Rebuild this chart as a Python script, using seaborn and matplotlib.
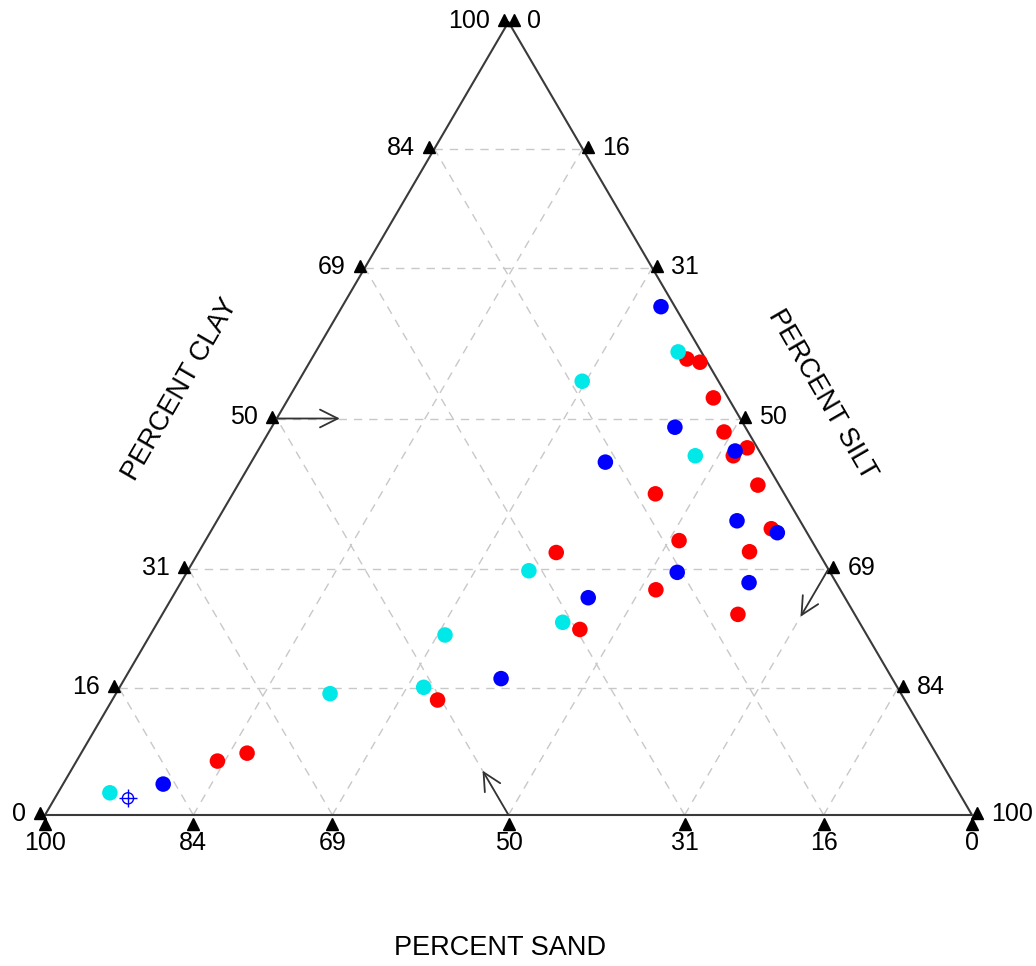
import numpy as np
import pandas as pd
import matplotlib
matplotlib.use("Agg")
import matplotlib.pyplot as plt
import seaborn as sns
from matplotlib.transforms import offset_copy

# ---------------- data (percent sand / silt / clay) ----------------
tick_values = [0, 16, 31, 50, 69, 84, 100]
grid_values = [16, 31, 50, 69, 84]

red_sand = [2.0, 0.8, 1.6, 2.6, 1.1, 3.1, 2.3, 13.9, 3.6, 14.3, 28.3, 7.4, 19.9, 30.6, 12.6, 50.4, 74.3, 78.0]
red_silt = [40.5, 42.1, 45.8, 49.1, 52.6, 51.6, 56.1, 45.6, 60.3, 51.1, 38.6, 59.4, 51.7, 46.0, 62.1, 35.1, 17.9, 15.2]
red_clay = [57.5, 57.1, 52.6, 48.3, 46.3, 45.3, 41.6, 40.5, 36.1, 34.6, 33.1, 33.2, 28.4, 23.4, 25.3, 14.5, 7.8, 6.8]

cyan_sand = [2.5, 14.7, 7.2, 32.4, 45.5, 32.0, 61.6, 51.1, 91.6]
cyan_silt = [39.1, 30.6, 47.5, 36.8, 31.8, 43.7, 23.1, 32.8, 5.6]
cyan_clay = [58.4, 54.7, 45.3, 30.8, 22.7, 24.3, 15.3, 16.1, 2.8]

blue_sand = [1.5, 7.6, 17.3, 2.6, 6.8, 3.2, 16.5, 9.4, 27.7, 42.2, 85.3]
blue_silt = [34.4, 43.5, 38.2, 51.5, 56.1, 61.2, 52.9, 61.3, 44.9, 40.6, 10.8]
blue_clay = [64.1, 48.9, 44.5, 45.9, 37.1, 35.6, 30.6, 29.3, 27.4, 17.2, 3.9]

special_sand = [90.0]
special_silt = [7.9]
special_clay = [2.1]

H = np.sqrt(3) / 2


def to_xy(sand, silt, clay):
    sand, silt, clay = map(np.asarray, (sand, silt, clay))
    tot = sand + silt + clay
    return (silt + clay / 2.0) / tot, clay / tot * H


frames = []
for name, s, si, c in [("red", red_sand, red_silt, red_clay),
                       ("cyan", cyan_sand, cyan_silt, cyan_clay),
                       ("blue", blue_sand, blue_silt, blue_clay)]:
    x, y = to_xy(s, si, c)
    frames.append(pd.DataFrame({"x": x, "y": y, "group": name}))
df = pd.concat(frames, ignore_index=True)
sx, sy = to_xy(special_sand, special_silt, special_clay)
df_special = pd.DataFrame({"x": sx, "y": sy})

# ---------------- figure ----------------
sns.set_style("white")
plt.rcParams["font.family"] = ["Liberation Sans", "DejaVu Sans"]
plt.rcParams["text.color"] = "black"

W, Hpx = 1036, 966
fig = plt.figure(figsize=(W / 100, Hpx / 100), dpi=100)
ax = fig.add_axes([0, 0, 1, 1])
ax.set_xlim(-45 / 927, 1 + 64 / 927)
ax.set_ylim(-151 / 793 * H, H + 22 / 793 * H)
ax.axis("off")

grid_kw = dict(color="#c8c8c8", lw=1.0, ls=(0, (6, 5)), zorder=1)
for v in grid_values:
    f = v / 100
    # clay constant (horizontal)
    ax.plot([f / 2, 1 - f / 2], [f * H, f * H], **grid_kw)
    # silt constant (parallel to left edge)
    ax.plot([f, f + (1 - f) / 2], [0, (1 - f) * H], **grid_kw)
    # sand constant (parallel to right edge)
    ax.plot([1 - f, (1 - f) / 2], [0, (1 - f) * H], **grid_kw)

# triangle edges
ax.plot([0, 1, 0.5, 0], [0, 0, H, 0], color="#3a3a3a", lw=1.5, zorder=2)

# ticks and labels
def off(dx_px, dy_px):
    return offset_copy(ax.transData, fig=fig, x=dx_px * 0.72, y=dy_px * 0.72, units="points")

tri_kw = dict(marker="^", color="black", ms=8, ls="none", zorder=4)
fs = 18
for v in tick_values:
    f = v / 100
    # left axis: clay
    lx, ly = f / 2, f * H
    ax.plot([lx], [ly], transform=off(-5, 2), **tri_kw)
    ax.text(lx, ly, f"{v}", transform=off(-19, 1), ha="right", va="center", fontsize=fs, color="black")
    # right axis: silt (0 at top -> 100 at bottom right)
    rx, ry = 1 - (1 - f) / 2, (1 - f) * H
    ax.plot([rx], [ry], transform=off(5, 2), **tri_kw)
    ax.text(rx, ry, f"{v}", transform=off(19, 1), ha="left", va="center", fontsize=fs, color="black")
    # bottom axis: sand (100 at left -> 0 at right)
    bx = 1 - f
    ax.plot([bx], [0], transform=off(0, -9), **tri_kw)
    ax.text(bx, 0, f"{v}", transform=off(0, -16), ha="center", va="top", fontsize=fs, color="black")

# direction arrows
arr = dict(arrowstyle="->", color="#333333", lw=1.3, mutation_scale=32, shrinkA=0, shrinkB=0)
c50 = 0.5
ax.annotate("", xy=(c50 / 2 + 0.068, c50 * H), xytext=(c50 / 2, c50 * H), arrowprops=arr, zorder=5)
ax.annotate("", xy=(0.5 - 0.5 * 0.056, H * 0.056), xytext=(0.5, 0), arrowprops=arr, zorder=5)
s69 = 0.69
rx0, ry0 = 1 - (1 - s69) / 2, (1 - s69) * H
ax.annotate("", xy=(rx0 - 0.5 * 0.06, ry0 - H * 0.06), xytext=(rx0, ry0), arrowprops=arr, zorder=5)

# points
palette = {"red": "#ff0000", "cyan": "#00e8e8", "blue": "#0000ff"}
sns.scatterplot(data=df, x="x", y="y", hue="group", palette=palette, s=125,
                edgecolor="none", linewidth=0, legend=False, ax=ax, zorder=6)
sns.scatterplot(data=df_special, x="x", y="y", marker="o", s=65, facecolor="none",
                edgecolor="#0000ff", linewidth=1.0, legend=False, ax=ax, zorder=7)
sns.scatterplot(data=df_special, x="x", y="y", marker="+", s=160, color="#0000ff",
                linewidth=1.0, legend=False, ax=ax, zorder=7)
ax.set_xlabel("")
ax.set_ylabel("")

# axis titles
tfs = 19.5
fig.text(180 / W, 1 - 390 / Hpx, "PERCENT CLAY", rotation=60, ha="center", va="center", fontsize=tfs, color="black")
fig.text(822 / W, 1 - 395 / Hpx, "PERCENT SILT", rotation=-60, ha="center", va="center", fontsize=tfs, color="black")
fig.text(500 / W, 1 - 948 / Hpx, "PERCENT SAND", ha="center", va="center", fontsize=tfs, color="black")

fig.savefig("out.png", dpi=100)
